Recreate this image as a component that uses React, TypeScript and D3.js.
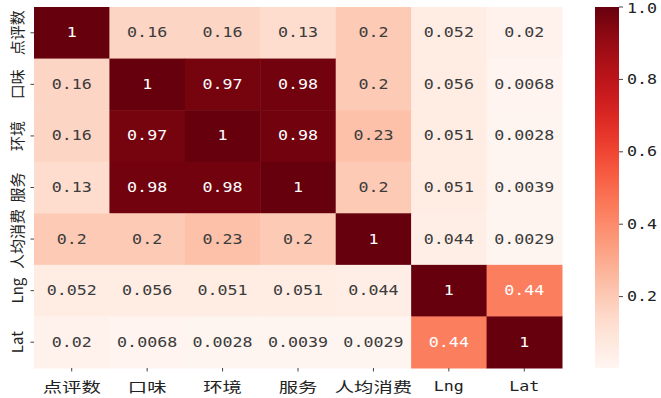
import { useEffect, useRef } from 'react'
import * as d3 from 'd3'

const LABELS = ['点评数', '口味', '环境', '服务', '人均消费', 'Lng', 'Lat']

const ROW_0 = [1, 0.16, 0.16, 0.13, 0.2, 0.052, 0.02]
const ROW_1 = [0.16, 1, 0.97, 0.98, 0.2, 0.056, 0.0068]
const ROW_2 = [0.16, 0.97, 1, 0.98, 0.23, 0.051, 0.0028]
const ROW_3 = [0.13, 0.98, 0.98, 1, 0.2, 0.051, 0.0039]
const ROW_4 = [0.2, 0.2, 0.23, 0.2, 1, 0.044, 0.0029]
const ROW_5 = [0.052, 0.056, 0.051, 0.051, 0.044, 1, 0.44]
const ROW_6 = [0.02, 0.0068, 0.0028, 0.0039, 0.0029, 0.44, 1]

const MATRIX = [ROW_0, ROW_1, ROW_2, ROW_3, ROW_4, ROW_5, ROW_6]

const CBAR_TICKS = [0.2, 0.4, 0.6, 0.8, 1.0]

const CJK = '"Noto Sans CJK SC", "DejaVu Sans", sans-serif'
const MONO = '"DejaVu Sans Mono", "Liberation Mono", "Noto Sans CJK SC", monospace'
const STRETCH = 1.19
const CJK_STRETCH = 1.38

const isLatin = (s: string) => /^[A-Za-z0-9.]+$/.test(s)

export default function App() {
  const svgRef = useRef<SVGSVGElement>(null)

  useEffect(() => {
    const svgEl = svgRef.current
    if (!svgEl) return
    const width = 661
    const height = 398
    const svg = d3.select(svgEl)
    svg.selectAll('*').remove()
    svg.attr('width', width).attr('height', height)

    const left = 34, right = 562, top = 7, bottom = 368
    const vmin = d3.min(MATRIX.flat()) ?? 0
    const vmax = 1

    const x = d3.scaleBand<string>().domain(LABELS).range([left, right])
    const y = d3.scaleBand<string>().domain(LABELS).range([top, bottom])
    const color = d3.scaleSequential(d3.interpolateReds).domain([vmin, vmax])

    const luminance = (c: string) => {
      const rgb = d3.rgb(c)
      const f = (v: number) => {
        const s = v / 255
        return s <= 0.03928 ? s / 12.92 : Math.pow((s + 0.055) / 1.055, 2.4)
      }
      return 0.2126 * f(rgb.r) + 0.7152 * f(rgb.g) + 0.0722 * f(rgb.b)
    }

    // cells + annotations
    MATRIX.forEach((row, i) => {
      row.forEach((v, j) => {
        const fill = color(v)
        svg.append('rect')
          .attr('x', x(LABELS[j])!).attr('y', y(LABELS[i])!)
          .attr('width', x.bandwidth() + 0.5).attr('height', y.bandwidth() + 0.5)
          .attr('fill', fill)
        svg.append('text')
          .attr('transform', `translate(${x(LABELS[j])! + x.bandwidth() / 2},${y(LABELS[i])! + y.bandwidth() / 2}) scale(${STRETCH},1)`)
          .attr('text-anchor', 'middle')
          .attr('dominant-baseline', 'central')
          .attr('fill', luminance(fill) < 0.408 ? '#ffffff' : '#3c3c3c')
          .style('font-size', '14px')
          .style('font-family', MONO)
          .text(String(v))
      })
    })

    // x axis
    LABELS.forEach(lab => {
      const cx = x(lab)! + x.bandwidth() / 2
      const latin = isLatin(lab)
      svg.append('line')
        .attr('x1', cx).attr('x2', cx).attr('y1', bottom).attr('y2', bottom + 3.5)
        .attr('stroke', '#444').attr('stroke-width', 1)
      svg.append('text')
        .attr('transform', `translate(${cx},${bottom + 18}) scale(${latin ? STRETCH : CJK_STRETCH},1)`)
        .attr('text-anchor', 'middle')
        .attr('dominant-baseline', 'central')
        .attr('fill', '#222')
        .style('font-size', '14px')
        .style('font-family', latin ? MONO : CJK)
        .text(lab)
    })

    // y axis
    LABELS.forEach(lab => {
      const cy = y(lab)! + y.bandwidth() / 2
      svg.append('line')
        .attr('x1', left - 3.5).attr('x2', left).attr('y1', cy).attr('y2', cy)
        .attr('stroke', '#444').attr('stroke-width', 1)
      svg.append('text')
        .attr('transform', `translate(16,${cy}) rotate(-90)`)
        .attr('text-anchor', 'middle')
        .attr('dominant-baseline', 'central')
        .attr('fill', '#222')
        .style('font-size', '15px')
        .style('font-family', CJK)
        .text(lab)
    })

    // colorbar
    const cbX = 595, cbW = 24
    const cbScale = d3.scaleLinear().domain([vmin, vmax]).range([bottom, top])
    const defs = svg.append('defs')
    const grad = defs.append('linearGradient')
      .attr('id', 'cbar').attr('x1', 0).attr('x2', 0).attr('y1', 1).attr('y2', 0)
    d3.range(0, 1.0001, 0.05).forEach(t => {
      grad.append('stop')
        .attr('offset', t)
        .attr('stop-color', color(vmin + t * (vmax - vmin)))
    })
    svg.append('rect')
      .attr('x', cbX).attr('y', top)
      .attr('width', cbW).attr('height', bottom - top)
      .attr('fill', 'url(#cbar)')

    CBAR_TICKS.forEach(t => {
      const ty = cbScale(t)
      svg.append('line')
        .attr('x1', cbX + cbW).attr('x2', cbX + cbW + 4).attr('y1', ty).attr('y2', ty)
        .attr('stroke', '#444').attr('stroke-width', 1)
      svg.append('text')
        .attr('transform', `translate(${cbX + cbW + 8},${Math.max(ty, 8)}) scale(${STRETCH},1)`)
        .attr('dominant-baseline', 'central')
        .attr('fill', '#222')
        .style('font-size', '14px')
        .style('font-family', MONO)
        .text(t.toFixed(1))
    })
  }, [])

  return (
    <div style={{ position: 'absolute', left: 0, top: 0, background: '#fff' }}>
      <svg ref={svgRef} style={{ display: 'block' }} />
    </div>
  )
}
